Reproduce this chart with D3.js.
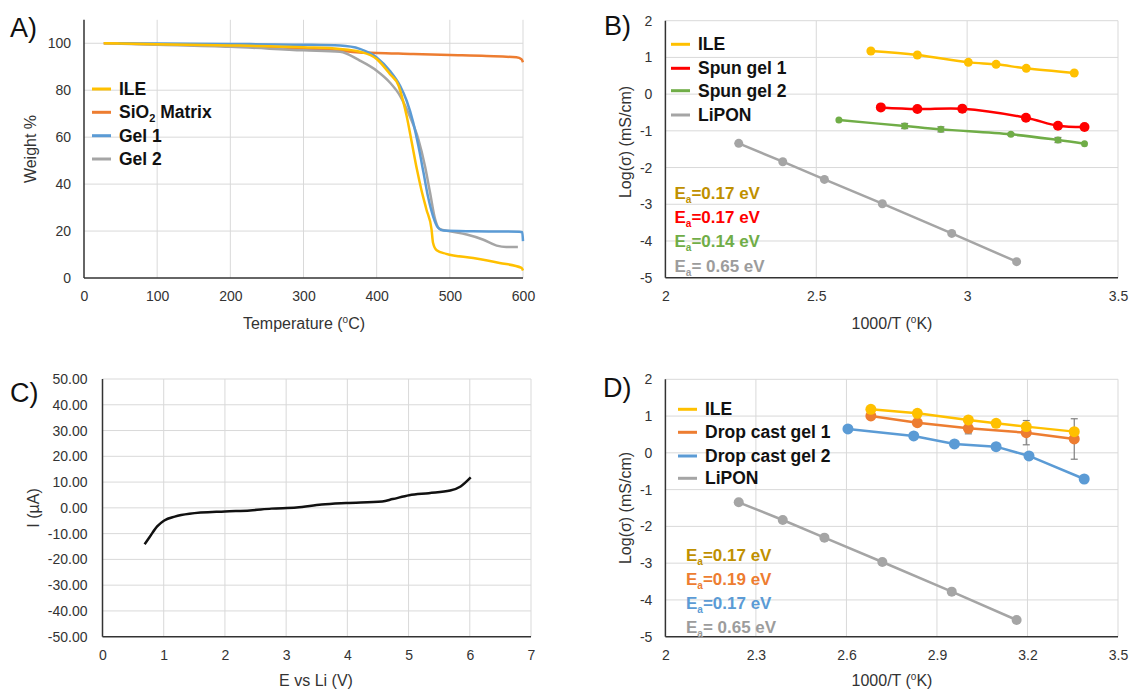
<!DOCTYPE html>
<html><head><meta charset="utf-8">
<script src="https://cdn.jsdelivr.net/npm/d3@7"></script>
<style>
body{margin:0;background:#fff;}
svg{display:block;font-family:"Liberation Sans",Arial,sans-serif;}
</style></head>
<body>
<svg id="chart" width="1130" height="692"></svg>
<script>
// ---------- Panel A: TGA ----------
const aXTicks=[0,100,200,300,400,500,600];
const aYTicks=[0,20,40,60,80,100];
const ileTgaT=[27,100,200,300,350,377,400,418,430,436,441,448,455,461,468,475,477,482,495,532,568,598,600];
const ileTgaW=[100,99.6,99.1,98.3,97.6,96.4,93.3,86.9,81.9,75.5,69,57.7,46.3,37.7,29.2,20.7,15,11.8,10.3,8.5,6.4,4.3,3.2];
const sioTgaT=[27,100,200,300,350,380,400,450,500,550,591,598,600];
const sioTgaW=[100,99.6,98.9,97.8,96.8,96.0,95.9,95.4,95.0,94.6,94.0,93.2,91.9];
const gel1TgaT=[47,100,200,300,350,377,400,418,432,441,450,457,464,470,477,484,491,532,595,599,600];
const gel1TgaW=[100,99.9,99.7,99.4,99.0,97.6,94.0,88.3,81.9,75.5,66.2,56.3,44.9,34.9,26.4,21.4,20.2,19.9,19.7,19.5,15.7];
const gel2TgaT=[27,100,200,300,350,377,400,418,432,445,457,466,473,480,486,500,523,545,564,577,593];
const gel2TgaW=[100,99.4,98.5,97.0,96.4,92.6,88.3,83.3,77.6,69.1,59.1,47.7,36.3,24.9,20.9,19.9,18.5,16.4,13.8,13.2,13.2];
const aLegend=["ILE","SiO2 Matrix","Gel 1","Gel 2"];

// ---------- Panel B: spun gels ----------
const bXTicks=[2,2.5,3,3.5];
const logTicks=[-5,-4,-3,-2,-1,0,1,2];
const bIleX=[2.681,2.835,3.004,3.096,3.196,3.355];
const bIleY=[1.174,1.065,0.865,0.811,0.702,0.575];
const spun1X=[2.714,2.835,2.984,3.195,3.301,3.389];
const spun1Y=[-0.361,-0.406,-0.397,-0.642,-0.860,-0.896];
const spun1Err=[0,0,0.09,0,0,0.06];
const spun2X=[2.575,2.793,2.913,3.145,3.301,3.389];
const spun2Y=[-0.706,-0.869,-0.960,-1.096,-1.250,-1.350];
const spun2Err=[0,0.07,0.07,0.03,0.07,0];
const lipX=[2.243,2.389,2.527,2.719,2.949,3.164];
const lipY=[-1.341,-1.841,-2.322,-2.985,-3.793,-4.564];
const bLegend=["ILE","Spun gel 1","Spun gel 2","LiPON"];
const bEa=["0.17","0.17","0.14"," 0.65"];

// ---------- Panel C: LSV ----------
const cXTicks=[0,1,2,3,4,5,6,7];
const cYTicks=[-50,-40,-30,-20,-10,0,10,20,30,40,50];
const lsvV=[0.688,0.776,0.893,1.009,1.18,1.42,2.0,2.41,2.76,3.17,3.58,3.98,4.57,4.74,5.01,5.33,5.68,5.85,6.015];
const lsvI=[-14.1,-11.1,-7.2,-4.9,-3.4,-2.3,-1.4,-1.0,-0.3,0.1,1.3,1.9,2.5,3.4,4.9,5.7,6.7,8.3,11.8];

// ---------- Panel D: drop cast gels ----------
const dXTicks=[2,2.3,2.6,2.9,3.2,3.5];
const dIleX=[2.681,2.835,3.004,3.096,3.196,3.355];
const dIleY=[1.184,1.075,0.894,0.803,0.713,0.577];
const drop1X=[2.681,2.835,3.004,3.196,3.355];
const drop1Y=[1.003,0.821,0.667,0.549,0.377];
const drop1Err=[0,0,0.15,0.33,0.55];
const drop2X=[2.605,2.823,2.958,3.096,3.205,3.388];
const drop2Y=[0.649,0.459,0.241,0.169,-0.085,-0.711];
const dLipY=[-1.345,-1.826,-2.306,-2.968,-3.775,-4.546];
const dLegend=["ILE","Drop cast gel 1","Drop cast gel 2","LiPON"];
const dEa=["0.17","0.19","0.17"," 0.65"];

const C={yellow:"#FFC000",orange:"#ED7D31",blue:"#5B9BD5",gray:"#A5A5A5",red:"#FF0000",green:"#70AD47",gold:"#BF9000",grayTxt:"#9C9C9C"};
const svg=d3.select("#chart");
svg.append("rect").attr("width",1130).attr("height",692).attr("fill","#fff");
const zip=(a,b)=>a.map((v,i)=>[v,b[i]]);

function panel(o){
  const g=svg.append("g");
  const x=d3.scaleLinear().domain(o.xd).range([o.x0,o.x1]);
  const y=d3.scaleLinear().domain(o.yd).range([o.yb,o.yt]);
  // grid
  g.selectAll(".gx").data(o.xt.filter(v=>v!==o.xd[0])).join("line")
    .attr("x1",d=>x(d)).attr("x2",d=>x(d)).attr("y1",o.yb).attr("y2",o.yt)
    .attr("stroke","#d9d9d9").attr("stroke-width",1);
  g.selectAll(".gy").data(o.yt2.filter(v=>v!==o.yd[0])).join("line")
    .attr("x1",o.x0).attr("x2",o.x1).attr("y1",d=>y(d)).attr("y2",d=>y(d))
    .attr("stroke","#d9d9d9").attr("stroke-width",1);
  // axes
  const ax=g.append("g").attr("transform",`translate(0,${o.yb})`)
    .call(d3.axisBottom(x).tickValues(o.xt).tickSize(0).tickPadding(13).tickFormat(o.xf||(d=>String(d))));
  ax.select(".domain").remove();
  ax.selectAll("text").attr("font-size",14).attr("fill","#333").attr("font-family","Liberation Sans, Arial, sans-serif");
  const ay=g.append("g").attr("transform",`translate(${o.x0},0)`)
    .call(d3.axisLeft(y).tickValues(o.yt2).tickSize(0).tickPadding(o.yPad||13).tickFormat(o.yf||(d=>String(d))));
  ay.select(".domain").remove();
  ay.selectAll("text").attr("font-size",14).attr("fill","#333").attr("font-family","Liberation Sans, Arial, sans-serif");
  g.append("line").attr("x1",o.x0).attr("x2",o.x0).attr("y1",o.yb).attr("y2",o.yt).attr("stroke","#333").attr("stroke-width",1.5);
  g.append("line").attr("x1",o.x0).attr("x2",o.x1).attr("y1",o.yb).attr("y2",o.yb).attr("stroke","#333").attr("stroke-width",1.5);
  // panel letter
  svg.append("text").attr("x",o.lx).attr("y",o.ly).attr("font-size",27).attr("fill","#111").text(o.letter);
  return {g,x,y};
}

function xTitle(cx,yb,main,sup,tail){
  const t=svg.append("text").attr("x",cx).attr("y",yb).attr("text-anchor","middle").attr("font-size",16).attr("fill","#333");
  t.append("tspan").text(main);
  if(sup){t.append("tspan").attr("font-size",10).attr("dy",-6).text(sup);t.append("tspan").attr("dy",6).text(tail);}
}
function yTitle(cx,cy,txt){
  svg.append("text").attr("transform",`translate(${cx},${cy}) rotate(-90)`).attr("text-anchor","middle")
    .attr("dominant-baseline","central").attr("font-size",16).attr("fill","#333").text(txt);
}
function legend(x0,ys,labels,colors){
  labels.forEach((l,i)=>{
    svg.append("line").attr("x1",x0).attr("x2",x0+19).attr("y1",ys[i]).attr("y2",ys[i]).attr("stroke",colors[i]).attr("stroke-width",3);
    const t=svg.append("text").attr("x",x0+27).attr("y",ys[i]+6).attr("font-size",17.5).attr("font-weight","bold").attr("fill","#111");
    if(l.includes("SiO2")){t.append("tspan").text("SiO");t.append("tspan").attr("font-size",11).attr("dy",4).text("2");t.append("tspan").attr("dy",-4).text(" Matrix");}
    else t.text(l);
  });
}
function eaLabels(x0,ys,vals,colors){
  vals.forEach((v,i)=>{
    const t=svg.append("text").attr("x",x0).attr("y",ys[i]).attr("font-size",17).attr("font-weight","bold").attr("fill",colors[i]);
    t.append("tspan").text("E");
    t.append("tspan").attr("font-size",10).attr("dy",4).text("a");
    t.append("tspan").attr("dy",-4).text("="+v+" eV");
  });
}
function series(p,xs,ys,color,r,curve,errs){
  const pts=zip(xs,ys);
  const line=d3.line().x(d=>p.x(d[0])).y(d=>p.y(d[1])).curve(curve||d3.curveLinear);
  p.g.append("path").attr("d",line(pts)).attr("fill","none").attr("stroke",color).attr("stroke-width",2.5);
  if(errs){
    pts.forEach((d,i)=>{ if(!errs[i]) return;
      const xx=p.x(d[0]),yl=p.y(d[1]-errs[i]),yh=p.y(d[1]+errs[i]);
      p.g.append("line").attr("x1",xx).attr("x2",xx).attr("y1",yl).attr("y2",yh).attr("stroke","#7f7f7f").attr("stroke-width",1.2);
      [yl,yh].forEach(yy=>p.g.append("line").attr("x1",xx-3.5).attr("x2",xx+3.5).attr("y1",yy).attr("y2",yy).attr("stroke","#7f7f7f").attr("stroke-width",1.2));
    });
  }
  if(r) p.g.selectAll(null).data(pts).join("circle").attr("cx",d=>p.x(d[0])).attr("cy",d=>p.y(d[1])).attr("r",r).attr("fill",color);
}

// ----- A -----
const pA=panel({x0:84,x1:523,yb:278,yt:19.8,xd:[0,600],yd:[0,110],xt:aXTicks,yt2:aYTicks,lx:10,ly:37,letter:"A)"});
const tgaLine=d3.line().x(d=>pA.x(d[0])).y(d=>pA.y(d[1])).curve(d3.curveMonotoneX);
[[sioTgaT,sioTgaW,C.orange],[gel2TgaT,gel2TgaW,C.gray],[gel1TgaT,gel1TgaW,C.blue],[ileTgaT,ileTgaW,C.yellow]].forEach(([t,w,c])=>{
  pA.g.append("path").attr("d",tgaLine(zip(t,w))).attr("fill","none").attr("stroke",c).attr("stroke-width",2.5);
});
legend(92,[89,112.3,135.7,159],aLegend,[C.yellow,C.orange,C.blue,C.gray]);
xTitle(304,329,"Temperature (","o","C)");
yTitle(30,149,"Weight %");

// ----- B -----
const pB=panel({x0:665.4,x1:1118,yb:277.7,yt:20.7,xd:[2,3.5],yd:[-5,2],xt:bXTicks,yt2:logTicks,lx:604,ly:35,letter:"B)"});
series(pB,lipX,lipY,C.gray,4.5);
series(pB,spun2X,spun2Y,C.green,3.5,d3.curveCatmullRom,spun2Err);
series(pB,spun1X,spun1Y,C.red,5,d3.curveCatmullRom,spun1Err);
series(pB,bIleX,bIleY,C.yellow,4.5,d3.curveCatmullRom);
legend(671,[44.3,68.3,90.7,115],bLegend,[C.yellow,C.red,C.green,C.gray]);
eaLabels(674.5,[199,223,247,272],bEa,[C.gold,C.red,C.green,C.grayTxt]);
xTitle(892,329,"1000/T (","o","K)");
yTitle(625,142,"Log(σ)  (mS/cm)");

// ----- C -----
const pC=panel({x0:102.5,x1:531,yb:636.7,yt:379,xd:[0,7],yd:[-50,50],xt:cXTicks,yt2:cYTicks,yf:d=>d.toFixed(2),yPad:15,lx:10,ly:402,letter:"C)"});
series(pC,lsvV,lsvI,"#111",0,d3.curveMonotoneX);
xTitle(316,686,"E vs Li (V)");
yTitle(33,508,"I (µA)");

// ----- D -----
const pD=panel({x0:665.4,x1:1118,yb:636.7,yt:379.3,xd:[2,3.5],yd:[-5,2],xt:dXTicks,yt2:logTicks,lx:603,ly:397,letter:"D)"});
series(pD,lipX,dLipY,C.gray,5);
series(pD,drop2X,drop2Y,C.blue,5.5);
series(pD,drop1X,drop1Y,C.orange,5.5,d3.curveLinear,drop1Err);
series(pD,dIleX,dIleY,C.yellow,5.5);
legend(678,[409.3,432.3,456,478.3],dLegend,[C.yellow,C.orange,C.blue,C.gray]);
eaLabels(686,[561,585,609,633],dEa,[C.gold,C.orange,C.blue,C.grayTxt]);
xTitle(892,686,"1000/T (","o","K)");
yTitle(625,508,"Log(σ)  (mS/cm)");
</script>
</body></html>
